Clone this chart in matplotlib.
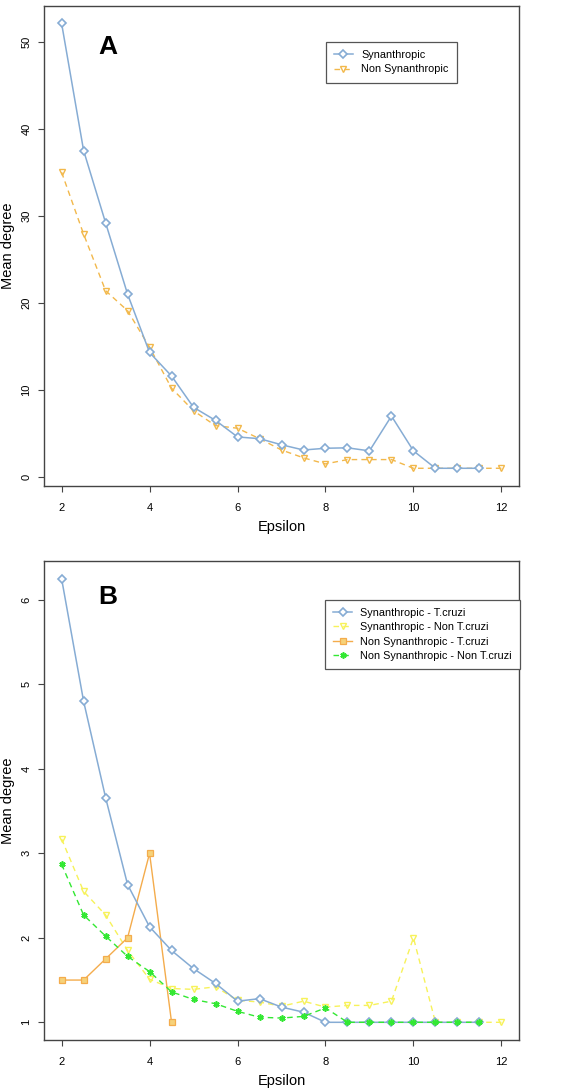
import matplotlib
matplotlib.use("Agg")
from matplotlib import pyplot as plt

plt.rcParams['font.family'] = ['Liberation Sans', 'DejaVu Sans']

# epsilon values
eps = [2, 2.5, 3, 3.5, 4, 4.5, 5, 5.5, 6, 6.5, 7, 7.5, 8, 8.5, 9, 9.5, 10, 10.5, 11, 11.5, 12]

# panel A
syn = [52.1, 37.5, 29.2, 21.0, 14.3, 11.6, 8.0, 6.5, 4.6, 4.4, 3.7, 3.1, 3.3, 3.35, 3.0, 7.0, 3.0, 1.0, 1.0, 1.0]
non_syn = [35.0, 27.9, 21.4, 19.1, 14.9, 10.2, 7.6, 5.9, 5.6, 4.4, 3.1, 2.2, 1.5, 2.0, 2.0, 2.0, 1.0, 1.0, 1.0, 1.0, 1.0]

# panel B
syn_tc = [6.25, 4.8, 3.66, 2.63, 2.13, 1.85, 1.635, 1.46, 1.25, 1.28, 1.18, 1.12, 1.0, 1.0, 1.0, 1.0, 1.0, 1.0, 1.0, 1.0]
syn_ntc = [3.17, 2.55, 2.27, 1.85, 1.51, 1.40, 1.39, 1.42, 1.26, 1.24, 1.19, 1.25, 1.18, 1.2, 1.2, 1.25, 2.0, 1.0, 1.0, 1.0, 1.0]
nsyn_tc = [1.5, 1.5, 1.75, 2.0, 3.0, 1.0]
nsyn_ntc = [2.87, 2.27, 2.02, 1.78, 1.6, 1.36, 1.27, 1.22, 1.13, 1.06, 1.05, 1.07, 1.17, 1.0, 1.0, 1.0, 1.0, 1.0, 1.0, 1.0]

blue = '#86acd4'
yellow_a = '#f2b84b'
yellow = '#f7f25a'
orange = '#f4ac4c'
green = '#33e833'
dash = (4, 3)


def style_axes(ax, yticks, ylim):
    ax.set_xlim(1.6, 12.4)
    ax.set_ylim(*ylim)
    ax.set_xticks([2, 4, 6, 8, 10, 12])
    ax.set_yticks(yticks)
    for s in ax.spines.values():
        s.set_color('#444444')
        s.set_linewidth(1.0)
    ax.tick_params(direction='out', length=4, width=0.8, color='#444444',
                   labelsize=8)
    ax.tick_params(axis='x', pad=8)
    ax.tick_params(axis='y', pad=5)
    for lab in ax.get_yticklabels():
        lab.set_rotation(90)
        lab.set_va('center')
    ax.set_xlabel('Epsilon', fontsize=10.5, labelpad=5)
    ax.set_ylabel('Mean degree', fontsize=10.5, labelpad=5)


def make_legend(ax, anchor):
    leg = ax.legend(loc='upper left', bbox_to_anchor=anchor,
                    fontsize=7.8, fancybox=False, framealpha=1,
                    edgecolor='#555555', handlelength=1.7, borderpad=0.75,
                    labelspacing=0.4, handletextpad=0.8, borderaxespad=0)
    leg.get_frame().set_linewidth(0.9)
    return leg


fig = plt.figure(figsize=(5.65, 10.91), dpi=100)
axA = fig.add_axes([0.0779, 0.5545, 0.8407, 0.44])
axB = fig.add_axes([0.0779, 0.0467, 0.8407, 0.4391])

# A
axA.plot(eps[:len(syn)], syn, color=blue, lw=1.1, marker='D', ms=4.5,
         mfc='white', mec=blue, mew=1.2, label='Synanthropic', zorder=3)
axA.plot(eps[:len(non_syn)], non_syn, color=yellow_a, lw=1.0, dashes=dash,
         marker='v', ms=5, mfc='none', mec=yellow_a, mew=1.0,
         label='Non Synanthropic', zorder=2)
style_axes(axA, [0, 10, 20, 30, 40, 50], (-1.04, 54.1))
axA.text(0.115, 0.94, 'A', transform=axA.transAxes, fontsize=19,
         fontweight='bold', va='top', ha='left')
make_legend(axA, (0.594, 0.925))

# B
axB.plot(eps[:len(syn_tc)], syn_tc, color=blue, lw=1.1, marker='D', ms=4.5,
         mfc='white', mec=blue, mew=1.2, label='Synanthropic - T.cruzi', zorder=3)
axB.plot(eps[:len(syn_ntc)], syn_ntc, color=yellow, lw=1.0, dashes=dash,
         marker='v', ms=5, mfc='none', mec=yellow, mew=1.0,
         label='Synanthropic - Non T.cruzi', zorder=2)
axB.plot(eps[:len(nsyn_tc)], nsyn_tc, color=orange, lw=1.0,
         marker='s', ms=3.8, mfc='#f6d27a', mec=orange, mew=0.9,
         label='Non Synanthropic - T.cruzi', zorder=2)
axB.plot(eps[:len(nsyn_ntc)], nsyn_ntc, color=green, lw=1.0, dashes=dash,
         marker=(6, 2, 0), ms=4.5, mec=green, mew=1.2,
         label='Non Synanthropic - Non T.cruzi', zorder=4)
style_axes(axB, [1, 2, 3, 4, 5, 6], (0.79, 6.46))
axB.text(0.115, 0.95, 'B', transform=axB.transAxes, fontsize=19,
         fontweight='bold', va='top', ha='left')
make_legend(axB, (0.592, 0.919))

fig.savefig('out.png', dpi=100)
